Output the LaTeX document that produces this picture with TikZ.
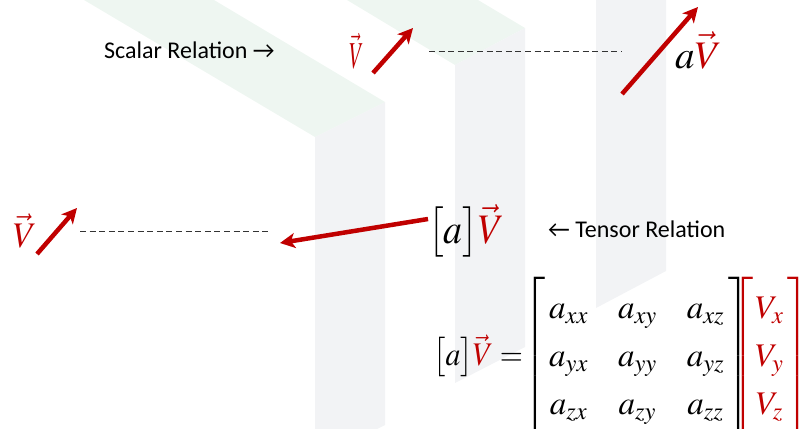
\documentclass[tikz,border=0pt]{standalone}
\usepackage{amsmath}
\usepackage{mathptmx}
\usepackage[no-math]{fontspec}
\setmainfont{Carlito}
\usetikzlibrary{arrows.meta}
\definecolor{vred}{RGB}{192,0,0}
\definecolor{bandgray}{RGB}{242,243,245}
\definecolor{bandgreen}{RGB}{238,246,241}

\begin{document}
\begin{tikzpicture}[
    x=1pt, y=-1pt,
    lbl/.style={inner sep=0pt, font=\fontsize{24}{28}\selectfont},
    vsym/.style={inner sep=0pt, text=vred},
    eqn/.style={inner sep=0pt, font=\fontsize{33}{40}\selectfont},
    vecarrow/.style={draw=vred, line width=4.5pt, -{Stealth[length=15pt, width=15pt, inset=4pt]}},
    guide/.style={dash pattern=on 6pt off 3.6pt, line width=0.9pt, black!80}
]
    \useasboundingbox (0,0) rectangle (799,428);

    % background bands
    \fill[bandgreen] (84,0) -- (214,0) -- (385,102) -- (315,137) -- cycle;
    \fill[bandgray] (315,137) -- (385,102) -- (385,425) -- (315,460) -- cycle;
    \fill[bandgreen] (347,0) -- (478,0) -- (525,28) -- (455,65) -- cycle;
    \fill[bandgray] (455,65) -- (525,28) -- (525,347) -- (455,383) -- cycle;
    \fill[bandgray] (596,0) -- (666,0) -- (666,271) -- (596,308) -- cycle;

    % scalar relation
    \node[lbl, anchor=base west] (scalarlbl) at (104,58) {Scalar Relation →};
    \node[vsym, anchor=base west, xscale=0.55, font=\fontsize{38}{44}\selectfont] (vtop) at (349,68) {$\vec{V}$};
    \coordinate (v1tail) at (373,73);
    \coordinate (v1tip) at (413,28);
    \draw[vecarrow] (v1tail) -- (v1tip);
    \coordinate (dash1a) at (429,51);
    \coordinate (dash1b) at (622,51);
    \draw[guide] (dash1a) -- (dash1b);
    \coordinate (v2tail) at (622,94);
    \coordinate (v2tip) at (698,7);
    \draw[vecarrow] (v2tail) -- (v2tip);
    \node[inner sep=0pt, anchor=base west, font=\fontsize{39}{46}\selectfont] (avec) at (675,68) {$a{\color{vred}\vec{V}}$};

    % tensor relation
    \node[vsym, anchor=base west, xscale=0.95, font=\fontsize{36}{42}\selectfont] (vleft) at (13,247) {$\vec{V}$};
    \coordinate (v3tail) at (37,254);
    \coordinate (v3tip) at (77,208);
    \draw[vecarrow] (v3tail) -- (v3tip);
    \coordinate (dash2a) at (80,231);
    \coordinate (dash2b) at (272,231);
    \draw[guide] (dash2a) -- (dash2b);
    \node[inner sep=0pt, anchor=base west, xscale=0.9, font=\fontsize{42}{48}\selectfont] (avmid) at (428,243) {$\bigl[a\bigr]{\color{vred}\vec{V}}$};
    \coordinate (v4tip) at (280,243);
    \draw[vecarrow] (avmid.west |- 0,219) -- (v4tip);
    \node[lbl, anchor=base west] (tensorlbl) at (548,237) {← Tensor Relation};

    % component form
    \node[eqn, anchor=base west, xscale=0.9] (eqlhs) at (433,365) {$\bigl[a\bigr]{\color{vred}\vec{V}}=$};
    \node[eqn, anchor=base west] (amat) at (523,365)
        {\arraycolsep=15pt\def\arraystretch{1.2}$\left[\hspace{4pt}\begin{matrix}
        a_{xx} & a_{xy} & a_{xz}\\
        a_{yx} & a_{yy} & a_{yz}\\
        a_{zx} & a_{zy} & a_{zz}
        \end{matrix}\hspace{4pt}\right]$};
    \node[eqn, anchor=base west, text=vred] (vcol) at (731,365)
        {\def\arraystretch{1.2}$\left[\hspace{2pt}\begin{matrix}
        V_x\\ V_y\\ V_z
        \end{matrix}\hspace{4pt}\right]$};
\end{tikzpicture}
\end{document}
